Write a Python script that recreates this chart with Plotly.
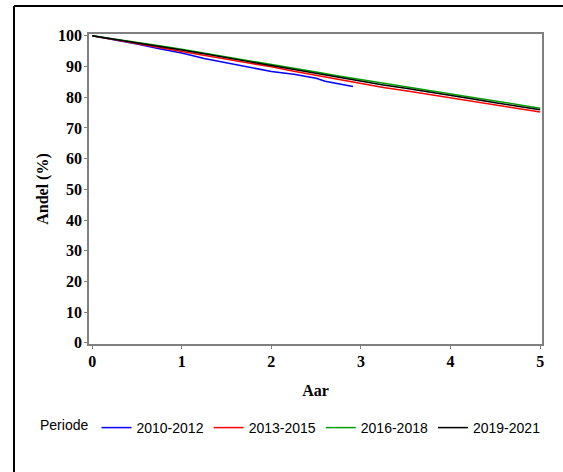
import plotly.graph_objects as go

# Follow-up time in years and share (%) still at risk, per period
t_grid = [0, 0.25, 0.5, 0.75, 1, 1.25, 1.5, 1.75, 2, 2.25, 2.5, 2.75, 3,
          3.25, 3.5, 3.75, 4, 4.25, 4.5, 4.75, 5]

t_2010 = [0, 0.25, 0.5, 0.75, 1, 1.25, 1.5, 1.75, 2, 2.25, 2.5, 2.6, 2.75, 2.91]
p_2010 = [100, 98.7, 97.3, 95.8, 94.4, 92.6, 91.2, 89.8, 88.4, 87.5, 86.2, 85.2, 84.4, 83.5]

p_2013 = [100, 98.8, 97.5, 96.2, 94.9, 93.7, 92.5, 91.2, 89.9, 88.5, 87.2, 85.8, 84.4,
          83.2, 82.1, 80.9, 79.8, 78.6, 77.5, 76.3, 75.2]
p_2016 = [100, 99.0, 97.9, 96.8, 95.6, 94.4, 93.2, 91.9, 90.6, 89.4, 88.2, 86.9, 85.7,
          84.5, 83.4, 82.2, 81.1, 79.9, 78.8, 77.6, 76.4]
p_2019 = [100, 98.9, 97.8, 96.6, 95.4, 94.2, 93.0, 91.6, 90.3, 89.0, 87.8, 86.5, 85.2,
          84.0, 82.9, 81.8, 80.6, 79.4, 78.2, 77.0, 75.9]

series = [
    ("2010-2012", t_2010, p_2010, "#0000ff"),
    ("2013-2015", t_grid, p_2013, "#ff0000"),
    ("2016-2018", t_grid, p_2016, "#00a000"),
    ("2019-2021", t_grid, p_2019, "#000000"),
]

x_ticks = [0, 1, 2, 3, 4, 5]
y_ticks = [0, 10, 20, 30, 40, 50, 60, 70, 80, 90, 100]

serif = "Liberation Serif"
sans = "Liberation Sans"
label_font = dict(family=serif, size=16, color="black", weight=700)

fig = go.Figure()
for name, xs, ys, col in series:
    fig.add_trace(go.Scatter(x=xs, y=ys, mode="lines", name=name,
                             line=dict(color=col, width=1.5)))

axis_common = dict(
    showline=True, mirror=True, linecolor="#808080", linewidth=1.5,
    ticks="outside", ticklen=3, tickcolor="#808080", tickwidth=1,
    ticklabelstandoff=-1,
    showgrid=False, zeroline=False,
    tickfont=label_font,
)

fig.update_xaxes(range=[-0.035, 5.02], tickvals=x_ticks,
                 title=dict(text="Aar", standoff=16, font=label_font),
                 **axis_common)
fig.update_yaxes(range=[-0.4, 100.6], tickvals=y_ticks,
                 title=dict(text="Andel (%)", standoff=5, font=label_font),
                 **axis_common)

# Outer frame: left and top edges around the graph
frame = dict(color="black", width=2)
fig.add_shape(type="line", xref="paper", yref="paper",
              x0=(14 - 89) / 453, x1=(14 - 89) / 453,
              y0=(344 - 520) / 310, y1=(344 - 6) / 310, line=frame)
fig.add_shape(type="line", xref="paper", yref="paper",
              x0=(14 - 89) / 453, x1=(620 - 89) / 453,
              y0=(344 - 6) / 310, y1=(344 - 6) / 310, line=frame)

fig.update_layout(
    width=563, height=472,
    margin=dict(l=89, r=21, t=34, b=128, autoexpand=False),
    paper_bgcolor="white", plot_bgcolor="white",
    showlegend=True,
    legend=dict(orientation="h", x=(38 - 89) / 453, xanchor="left",
                y=(344 - 428) / 310, yanchor="middle",
                title=dict(text="Periode", font=dict(family=sans, size=14, color="black")),
                font=dict(family=sans, size=14, color="black"),
                bgcolor="rgba(0,0,0,0)", itemwidth=30, tracegroupgap=0),
)

fig.write_html("out.html")
